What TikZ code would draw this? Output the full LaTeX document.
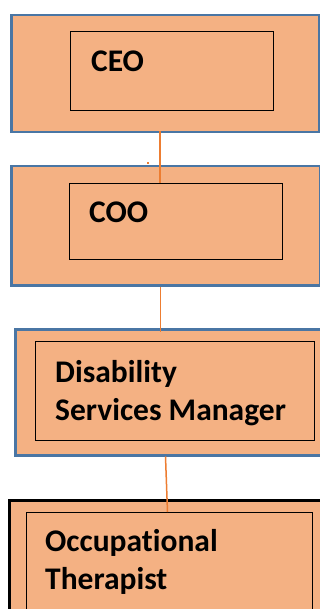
\documentclass[tikz,border=0pt]{standalone}
\usepackage{fontspec}
\setmainfont{Carlito}[Ligatures=NoCommon]
\usepackage{xcolor}
\usetikzlibrary{positioning}
\definecolor{peach}{HTML}{F4B183}
\definecolor{frameblue}{HTML}{4A76A4}
\definecolor{linkorange}{HTML}{ED7D31}
\tikzset{
    outerbox/.style={draw=frameblue, line width=2.5pt, fill=peach, anchor=north west, inner sep=0pt},
    innerbox/.style={draw=black, line width=1.3pt, fill=peach, anchor=north west, inner sep=0pt},
    rolename/.style={font=\fontsize{31.5}{38}\selectfont\bfseries, align=left, anchor=base west, inner sep=0pt},
    link/.style={draw=linkorange, line width=1.5pt}
}

\begin{document}
\begin{tikzpicture}[x=1pt, y=-1pt]
    \useasboundingbox (0, 0) rectangle (320, 609);
    % CEO
    \node [outerbox, minimum width=308pt, minimum height=117pt] (ceo box) at (10, 14) {};
    \node [innerbox, minimum width=203pt, minimum height=79pt] (ceo) at (70, 31) {};
    \node [rolename] (ceo text) at (91, 72) {CEO};
    % COO
    \node [outerbox, minimum width=309pt, minimum height=119pt] (coo box) at (10, 165) {};
    \node [innerbox, minimum width=213pt, minimum height=76pt] (coo) at (69, 183) {};
    \node [rolename] (coo text) at (89, 223) {COO};
    % Disability Services Manager
    \node [outerbox, minimum width=310pt, minimum height=126pt] (dsm box) at (14, 328) {};
    \node [innerbox, minimum width=279pt, minimum height=99pt] (dsm) at (35, 341) {};
    \node [rolename] (dsm text) at (55, 420) {Disability\\Services Manager};
    % Occupational Therapist
    \node [outerbox, draw=black, minimum width=316pt, minimum height=120pt] (ot box) at (8, 499) {};
    \node [innerbox, minimum width=286pt, minimum height=110pt] (ot) at (26, 512) {};
    \node [rolename] (ot text) at (45, 589) {Occupational\\Therapist};
    % links
    \coordinate (link a) at (160, 131);
    \coordinate (link b) at (160.5, 332);
    \coordinate (link c) at (165.5, 454);
    \draw [link] (link a) -- (coo.north -| link a);
    \draw [link] (coo box.south -| link b) -- (link b);
    \draw [link] (dsm box.south -| link c) -- (ot.north -| 167.5, 0);
    \fill [linkorange] (147, 162) rectangle (149, 164);
\end{tikzpicture}
\end{document}
